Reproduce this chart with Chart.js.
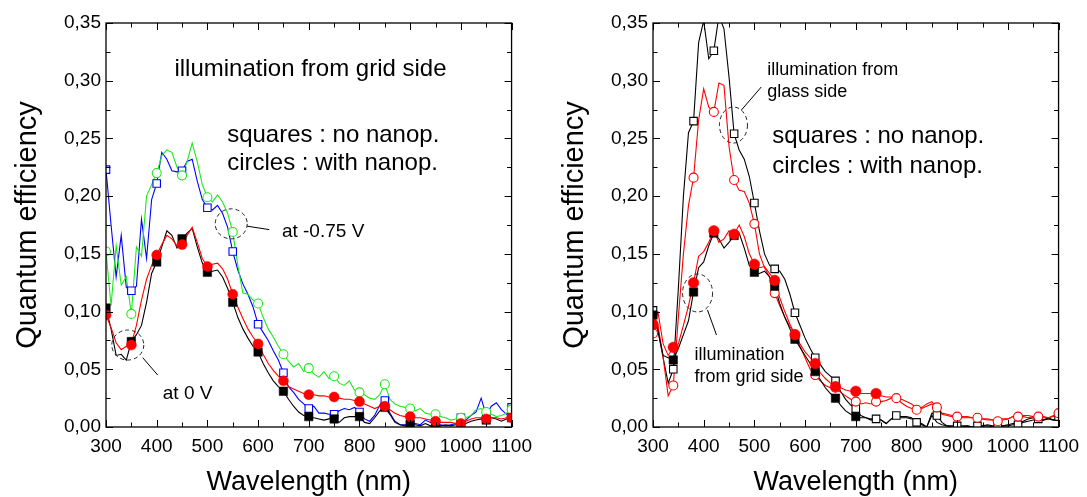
<!DOCTYPE html>
<html><head><meta charset="utf-8">
<script src="https://cdn.jsdelivr.net/npm/chart.js@4/dist/chart.umd.min.js"></script>
<style>
html,body{margin:0;padding:0;background:#fff;overflow:hidden}
#wrap{position:relative;width:1087px;height:497px;background:#fff}
#c1{position:absolute;left:0;top:0}
#c2{position:absolute;left:545px;top:0}
</style></head><body>
<div id="wrap">
<canvas id="c1" width="540" height="497"></canvas>
<canvas id="c2" width="542" height="497"></canvas>
</div>
<script>
// ---------- data ----------
const wl = [300,310,320,330,340,350,360,370,380,390,
            400,410,420,430,440,450,460,470,480,490,
            500,510,520,530,540,550,560,570,580,590,
            600,610,620,630,640,650,660,670,680,690,
            700,710,720,730,740,750,760,770,780,790,
            800,810,820,830,840,850,860,870,880,890,
            900,910,920,930,940,950,960,970,980,990,
            1000,1010,1020,1030,1040,1050,1060,1070,1080,1090,
            1100];
const wlMarkLeft = [300,350,400,450,500,550,600,650,700,750,800,850,900,950,1000,1050,1100];
const wlMarkRight = [300,340,380,420,460,500,540,580,620,660,700,740,780,820,860,900,940,980,1020,1060,1100];

// left panel: illumination from grid side
const leftNoNanop0V = [.103,.085,.062,.063,.058,.074,.080,.088,.108,.133,
  .143,.156,.170,.166,.155,.163,.168,.172,.156,.142,
  .134,.135,.136,.130,.120,.108,.095,.085,.077,.070,
  .065,.055,.047,.040,.035,.031,.024,.018,.013,.010,
  .009,.008,.007,.006,.007,.007,.004,.008,.009,.009,
  .009,.004,.003,.008,.014,.017,.011,.004,.002,.001,
  .002,.002,.001,.003,.001,.001,.001,.002,.001,.002,
  .002,.003,.005,.006,.007,.006,.008,.007,.005,.007,
  .008];
const leftNanop0V = [.097,.086,.073,.067,.070,.072,.088,.110,.128,.140,
  .149,.158,.166,.163,.157,.158,.166,.173,.160,.146,
  .139,.141,.142,.137,.128,.115,.104,.094,.085,.078,
  .072,.063,.055,.049,.044,.040,.035,.033,.031,.029,
  .028,.028,.027,.027,.026,.026,.025,.024,.024,.023,
  .022,.020,.018,.016,.018,.018,.015,.012,.010,.009,
  .009,.008,.008,.007,.006,.005,.004,.004,.004,.003,
  .003,.005,.007,.008,.008,.007,.008,.008,.007,.008,
  .008];
const leftNoNanop075V = [.223,.175,.130,.166,.121,.118,.122,.180,.146,.197,
  .211,.238,.232,.222,.221,.222,.230,.232,.213,.197,
  .190,.188,.192,.185,.173,.152,.136,.124,.115,.104,
  .089,.082,.075,.066,.058,.047,.035,.030,.024,.020,
  .016,.018,.012,.012,.011,.011,.014,.016,.015,.017,
  .013,.007,.005,.010,.019,.023,.012,.005,.002,.002,
  .003,.003,.002,.006,.004,.004,.002,.001,.002,.003,
  .008,.006,.010,.013,.025,.010,.018,.021,.015,.011,
  .017];
const leftNanop075V = [.152,.105,.157,.123,.130,.098,.156,.148,.200,.210,
  .220,.235,.240,.238,.225,.218,.230,.246,.230,.210,
  .199,.195,.201,.195,.185,.169,.140,.116,.115,.110,
  .107,.095,.085,.078,.070,.063,.057,.052,.055,.048,
  .051,.046,.043,.048,.042,.044,.038,.036,.040,.032,
  .030,.028,.025,.024,.028,.037,.024,.020,.018,.017,
  .016,.014,.016,.012,.011,.011,.009,.008,.006,.007,
  .008,.008,.010,.015,.016,.013,.011,.009,.010,.012,
  .015];
const leftMarkNoNanop0V = [.103,.074,.143,.163,.134,.108,.065,.031,.009,.007,.009,.017,.002,.001,.002,.006,.008];
const leftMarkNanop0V   = [.097,.071,.149,.158,.139,.115,.072,.040,.028,.026,.022,.018,.009,.005,.003,.007,.008];
const leftMarkNoNanop075V = [.223,.118,.211,.222,.190,.152,.089,.047,.016,.011,.013,.023,.003,.004,.008,.010,.017];
const leftMarkNanop075V   = [.152,.098,.220,.218,.199,.169,.107,.063,.051,.044,.030,.037,.016,.011,.008,.013,.015];

// right panel: glass side vs grid side
const rightGlassNoNanop = [.101,.083,.060,.038,.050,.120,.200,.255,.265,.333,
  .352,.319,.326,.356,.345,.303,.254,.240,.232,.217,
  .194,.170,.150,.140,.137,.135,.128,.115,.099,.088,
  .077,.068,.060,.054,.048,.044,.040,.031,.024,.019,
  .016,.010,.008,.007,.007,.006,.003,.007,.010,.009,
  .009,.008,.004,.003,.000,.012,.010,.004,.001,.001,
  .001,.001,.001,.000,.001,.001,.002,.001,.001,.001,
  .001,.002,.002,.004,.005,.006,.007,.006,.007,.006,
  .009];
const rightGlassNanop = [.081,.088,.060,.027,.036,.095,.150,.192,.216,.266,
  .293,.277,.273,.298,.296,.243,.214,.205,.204,.194,
  .176,.150,.138,.130,.116,.105,.095,.087,.080,.070,
  .060,.050,.045,.040,.036,.034,.034,.030,.027,.024,
  .022,.020,.021,.020,.022,.022,.023,.025,.025,.021,
  .018,.016,.015,.016,.018,.020,.017,.011,.010,.009,
  .009,.008,.008,.008,.008,.007,.006,.006,.005,.006,
  .007,.009,.009,.009,.008,.009,.009,.008,.008,.010,
  .012];
const rightGridNoNanop = [.097,.083,.062,.060,.058,.068,.080,.092,.117,.138,
  .143,.157,.168,.163,.155,.160,.166,.168,.155,.140,
  .134,.133,.135,.130,.122,.107,.095,.085,.076,.069,
  .062,.055,.048,.041,.034,.029,.025,.019,.014,.011,
  .009,.008,.008,.006,.007,.006,.003,.007,.008,.008,
  .008,.007,.007,.002,.000,.010,.004,.002,.001,.000,
  .000,.000,.001,.000,.000,.001,.001,.000,.000,.001,
  .002,.003,.004,.005,.007,.008,.007,.006,.008,.006,
  .008];
const rightGridNanop = [.089,.099,.072,.062,.069,.072,.088,.105,.125,.148,
  .152,.160,.170,.160,.163,.170,.167,.175,.165,.150,
  .141,.138,.139,.133,.127,.112,.100,.089,.080,.072,
  .065,.060,.055,.047,.042,.038,.035,.034,.032,.031,
  .030,.029,.029,.029,.029,.027,.026,.026,.025,.024,
  .022,.020,.016,.017,.020,.022,.017,.012,.011,.010,
  .010,.009,.009,.008,.008,.007,.007,.006,.006,.007,
  .007,.009,.010,.010,.010,.009,.010,.009,.008,.009,
  .012];
const rightMarkGlassNoNanop = [.101,.050,.265,.326,.254,.194,.137,.099,.060,.040,.016,.007,.010,.004,.010,.001,.001,.001,.002,.007,.009];
const rightMarkGlassNanop   = [.081,.036,.216,.273,.214,.176,.116,.080,.045,.034,.022,.022,.025,.015,.017,.009,.008,.005,.009,.009,.012];
const rightMarkGridNoNanop  = [.097,.058,.117,.168,.166,.134,.122,.076,.048,.025,.009];
const rightMarkGridNanop    = [.089,.069,.125,.170,.167,.141,.127,.080,.055,.035,.031,.029];

const yTickLabels = ['0,00','0,05','0,10','0,15','0,20','0,25','0,30','0,35'];
const xTickLabels = ['300','400','500','600','700','800','900','1000','1100'];

// ---------- helpers ----------
const FONT = "'Liberation Sans', Arial, Helvetica, sans-serif";
const GREEN = '#1ee81e', RED = '#ff0000', BLUE = '#0000ff', BLACK = '#000000';

function pts(xs, ys){ return ys.map((y,i)=>({x:xs[i], y:y})); }
function lineDs(ys, color, order){
  return {data: pts(wl, ys), showLine:true, borderColor:color, borderWidth:1.1,
          pointRadius:0, pointHoverRadius:0, fill:false, tension:0, order:order, clip:0};
}
function markDs(xs, ys, style, color, filled, r, order){
  return {data: pts(xs, ys), showLine:false, pointStyle:style, pointRadius:r, pointHoverRadius:r,
          pointBorderColor:color, pointBackgroundColor: filled ? color : '#ffffff',
          pointBorderWidth: filled ? 0.5 : 1.1, order:order, clip:0};
}

const framePlugin = {
  id:'frameTicks',
  afterDatasetsDraw(chart){
    const {ctx, chartArea:a, scales:{x, y}} = chart;
    ctx.save();
    ctx.strokeStyle = '#000';
    ctx.lineWidth = 1;
    const majL = 7, minL = 4.5;
    const xt = x.ticks.map(t=>t.value), yt = y.ticks.map(t=>t.value);
    const seg = (x1,y1,x2,y2)=>{ctx.beginPath();ctx.moveTo(x1,y1);ctx.lineTo(x2,y2);ctx.stroke();};
    xt.forEach((v,i)=>{
      const p = Math.round(x.getPixelForValue(v))+0.5;
      seg(p,a.bottom,p,a.bottom-majL); seg(p,a.top,p,a.top+majL);
      if(i<xt.length-1){
        const m = Math.round(x.getPixelForValue((v+xt[i+1])/2))+0.5;
        seg(m,a.bottom,m,a.bottom-minL); seg(m,a.top,m,a.top+minL);
      }
    });
    yt.forEach((v,i)=>{
      const p = Math.round(y.getPixelForValue(v))+0.5;
      seg(a.left,p,a.left+majL,p); seg(a.right,p,a.right-majL,p);
      if(i<yt.length-1){
        const m = Math.round(y.getPixelForValue((v+yt[i+1])/2))+0.5;
        seg(a.left,m,a.left+minL,m); seg(a.right,m,a.right-minL,m);
      }
    });
    ctx.lineWidth = 1.3;
    ctx.strokeRect(a.left, a.top, a.right-a.left, a.bottom-a.top);
    ctx.restore();
  }
};

function annotPlugin(items){
  return {
    id:'annot',
    afterDatasetsDraw(chart){
      const {ctx, scales:{x, y}} = chart;
      ctx.save();
      items.forEach(it=>{
        if(it.t==='text'){
          ctx.fillStyle = '#000';
          ctx.font = it.size + 'px ' + FONT;
          ctx.textAlign = 'left'; ctx.textBaseline = 'alphabetic';
          ctx.fillText(it.text, x.getPixelForValue(it.x), y.getPixelForValue(it.y));
        } else if(it.t==='ell'){
          ctx.strokeStyle = '#222'; ctx.lineWidth = 1; ctx.setLineDash([4,3]);
          ctx.beginPath();
          ctx.ellipse(x.getPixelForValue(it.x), y.getPixelForValue(it.y), it.rx, it.ry, 0, 0, Math.PI*2);
          ctx.stroke(); ctx.setLineDash([]);
        } else if(it.t==='line'){
          ctx.strokeStyle = '#000'; ctx.lineWidth = 1; ctx.setLineDash([]);
          ctx.beginPath();
          ctx.moveTo(x.getPixelForValue(it.x1), y.getPixelForValue(it.y1));
          ctx.lineTo(x.getPixelForValue(it.x2), y.getPixelForValue(it.y2));
          ctx.stroke();
        }
      });
      ctx.restore();
    }
  };
}

function makeScales(yWidth, yTitlePad){
  return {
    x: {type:'linear', min:300, max:1100, position:'bottom',
        ticks:{stepSize:100, padding:8, color:'#000', maxRotation:0, autoSkip:false,
               font:{family:FONT, size:19}, callback:(v,i)=>xTickLabels[i]},
        grid:{display:false, drawTicks:false}, border:{display:false},
        title:{display:true, text:'Wavelength (nm)', color:'#000',
               font:{family:FONT, size:27, lineHeight:1}, padding:{top:0, bottom:0.5}},
        afterFit(s){ s.height = 70; }},
    y: {type:'linear', min:0, max:0.35,
        ticks:{stepSize:0.05, padding:5, color:'#000',
               font:{family:FONT, size:19}, callback:(v,i)=>yTickLabels[i]},
        grid:{display:false, drawTicks:false}, border:{display:false},
        title:{display:true, text:'Quantum efficiency', color:'#000',
               font:{family:FONT, size:29, lineHeight:1}, padding:{top:yTitlePad, bottom:0}},
        afterFit(s){ s.width = yWidth; }}
  };
}

function baseOptions(yWidth, yTitlePad, rightPad){
  return {
    responsive:false, animation:false, events:[],
    layout:{padding:{left:0, top:23, right:rightPad, bottom:0}},
    plugins:{legend:{display:false}, tooltip:{enabled:false}},
    scales: makeScales(yWidth, yTitlePad)
  };
}

// ---------- left chart ----------
new Chart(document.getElementById('c1'), {
  type:'scatter',
  data:{datasets:[
    markDs(wlMarkLeft, leftMarkNanop0V, 'circle', RED, true, 5, 1),
    markDs(wlMarkLeft, leftMarkNoNanop0V, 'rect', BLACK, true, 6, 2),
    markDs(wlMarkLeft, leftMarkNanop075V, 'circle', GREEN, false, 4.5, 3),
    markDs(wlMarkLeft, leftMarkNoNanop075V, 'rect', BLUE, false, 5.3, 4),
    lineDs(leftNanop0V, RED, 5),
    lineDs(leftNoNanop0V, BLACK, 6),
    lineDs(leftNanop075V, GREEN, 7),
    lineDs(leftNoNanop075V, BLUE, 8)
  ]},
  options: baseOptions(106, 13.5, 26),
  plugins:[framePlugin, annotPlugin([
    {t:'text', text:'illumination from grid side', x:435, y:0.304, size:24},
    {t:'text', text:'squares : no nanop.', x:539, y:0.247, size:24},
    {t:'text', text:'circles : with nanop.', x:539, y:0.2227, size:24},
    {t:'ell', x:547, y:0.176, rx:16, ry:15},
    {t:'line', x1:578, y1:0.174, x2:622, y2:0.171},
    {t:'text', text:'at -0.75 V', x:647, y:0.1646, size:19},
    {t:'ell', x:343, y:0.071, rx:16, ry:15},
    {t:'line', x1:372.5, y1:0.060, x2:402, y2:0.045},
    {t:'text', text:'at 0 V', x:412, y:0.0243, size:19}
  ])]
});

// ---------- right chart ----------
new Chart(document.getElementById('c2'), {
  type:'scatter',
  data:{datasets:[
    markDs(wlMarkRight.slice(0, rightMarkGridNanop.length), rightMarkGridNanop, 'circle', RED, true, 5.3, 1),
    markDs(wlMarkRight.slice(0, rightMarkGridNoNanop.length), rightMarkGridNoNanop, 'rect', BLACK, true, 6, 2),
    markDs(wlMarkRight, rightMarkGlassNanop, 'circle', RED, false, 4.5, 3),
    markDs(wlMarkRight, rightMarkGlassNoNanop, 'rect', BLACK, false, 5.3, 4),
    lineDs(rightGridNanop, RED, 5),
    lineDs(rightGridNoNanop, BLACK, 6),
    lineDs(rightGlassNanop, RED, 7),
    lineDs(rightGlassNoNanop, BLACK, 8)
  ]},
  options: baseOptions(108, 15.5, 27),
  plugins:[framePlugin, annotPlugin([
    {t:'text', text:'illumination from', x:525.5, y:0.305, size:18},
    {t:'text', text:'glass side', x:525.5, y:0.286, size:18},
    {t:'line', x1:513.7, y1:0.2946, x2:474.4, y2:0.2746},
    {t:'ell', x:458.7, y:0.2616, rx:14, ry:18},
    {t:'text', text:'squares : no nanop.', x:535, y:0.246, size:24},
    {t:'text', text:'circles : with nanop.', x:535, y:0.220, size:24},
    {t:'ell', x:387.9, y:0.1161, rx:15, ry:19},
    {t:'line', x1:407.5, y1:0.1014, x2:425.2, y2:0.0797},
    {t:'text', text:'illumination', x:381.8, y:0.058, size:18},
    {t:'text', text:'from grid side', x:381.8, y:0.039, size:18}
  ])]
});
</script>
</body></html>
